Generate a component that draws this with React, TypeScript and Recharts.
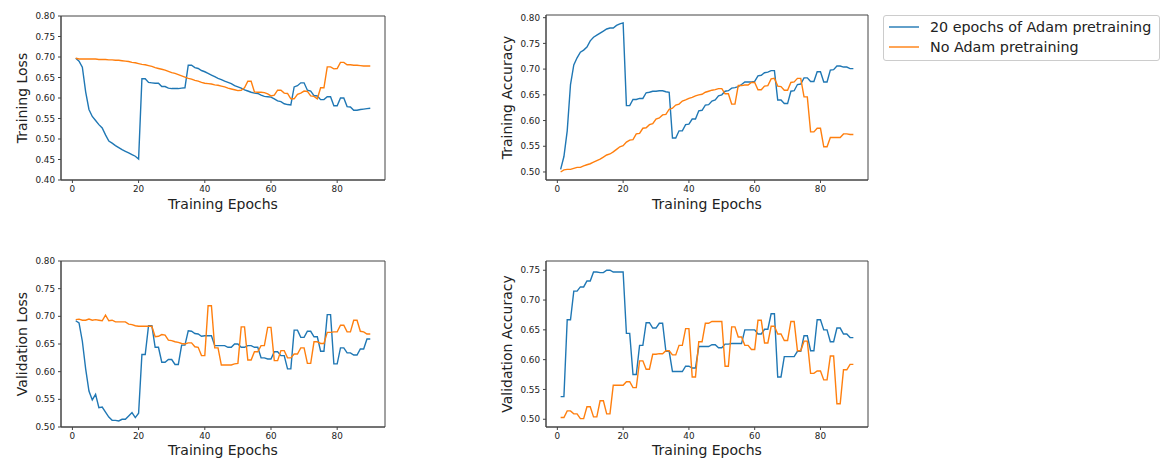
import React from "react";
import { LineChart, Line, XAxis, YAxis, ReferenceArea } from "recharts";

// epoch index 1..90 (x categories)
const epochs = Array.from({ length: 90 }, (_, i) => i + 1);

const trainLossAdam = [
  0.697, 0.690, 0.675, 0.615, 0.572, 0.555, 0.545, 0.535, 0.527, 0.510,
  0.495, 0.490, 0.484, 0.479, 0.474, 0.470, 0.466, 0.462, 0.458, 0.451,
  0.647, 0.647, 0.638, 0.637, 0.636, 0.636, 0.628, 0.628, 0.624, 0.623,
  0.623, 0.623, 0.624, 0.625, 0.680, 0.680, 0.674, 0.672, 0.667, 0.664,
  0.660, 0.656, 0.652, 0.648, 0.645, 0.641, 0.638, 0.635, 0.630, 0.627,
  0.624, 0.620, 0.617, 0.614, 0.612, 0.611, 0.607, 0.604, 0.603, 0.602,
  0.598, 0.593, 0.591, 0.586, 0.584, 0.583, 0.627, 0.630, 0.637, 0.637,
  0.619, 0.617, 0.606, 0.605, 0.596, 0.596, 0.603, 0.603, 0.581, 0.581,
  0.600, 0.600, 0.579, 0.578, 0.570, 0.570, 0.572, 0.573, 0.574, 0.575,
];
const trainLossNone = [
  0.697, 0.695, 0.695, 0.695, 0.695, 0.695, 0.695, 0.694, 0.694, 0.694,
  0.693, 0.693, 0.692, 0.692, 0.691, 0.690, 0.689, 0.687, 0.686, 0.684,
  0.682, 0.681, 0.679, 0.677, 0.674, 0.672, 0.670, 0.668, 0.665, 0.662,
  0.660, 0.657, 0.654, 0.651, 0.648, 0.646, 0.643, 0.641, 0.638, 0.636,
  0.635, 0.634, 0.632, 0.631, 0.629, 0.627, 0.624, 0.622, 0.620, 0.618,
  0.619, 0.625, 0.641, 0.641, 0.615, 0.614, 0.614, 0.613, 0.610, 0.605,
  0.607, 0.619, 0.619, 0.612, 0.611, 0.598, 0.598, 0.609, 0.612, 0.617,
  0.616, 0.605, 0.604, 0.598, 0.625, 0.625, 0.676, 0.676, 0.671, 0.672,
  0.687, 0.687, 0.681, 0.681, 0.680, 0.680, 0.679, 0.678, 0.678, 0.678,
];

const trainAccAdam = [
  0.505, 0.530, 0.580, 0.670, 0.708, 0.722, 0.733, 0.737, 0.743, 0.755,
  0.762, 0.766, 0.770, 0.774, 0.778, 0.780, 0.780, 0.785, 0.788, 0.790,
  0.629, 0.629, 0.641, 0.641, 0.643, 0.643, 0.654, 0.655, 0.657, 0.657,
  0.658, 0.658, 0.656, 0.655, 0.566, 0.566, 0.580, 0.580, 0.592, 0.593,
  0.603, 0.603, 0.619, 0.620, 0.630, 0.631, 0.638, 0.640, 0.648, 0.650,
  0.657, 0.658, 0.663, 0.664, 0.666, 0.670, 0.675, 0.675, 0.675, 0.676,
  0.687, 0.688, 0.693, 0.694, 0.697, 0.697, 0.640, 0.640, 0.633, 0.633,
  0.657, 0.658, 0.670, 0.671, 0.683, 0.683, 0.676, 0.676, 0.695, 0.695,
  0.675, 0.675, 0.698, 0.699, 0.706, 0.706, 0.704, 0.704, 0.701, 0.701,
];
const trainAccNone = [
  0.500, 0.504, 0.505, 0.505, 0.507, 0.509, 0.509, 0.512, 0.514, 0.516,
  0.519, 0.522, 0.525, 0.529, 0.533, 0.535, 0.539, 0.544, 0.549, 0.551,
  0.558, 0.562, 0.563, 0.574, 0.575, 0.585, 0.586, 0.592, 0.594, 0.603,
  0.605, 0.611, 0.612, 0.622, 0.624, 0.630, 0.632, 0.638, 0.640, 0.643,
  0.645, 0.648, 0.650, 0.651, 0.655, 0.657, 0.659, 0.660, 0.662, 0.662,
  0.652, 0.652, 0.632, 0.632, 0.668, 0.668, 0.669, 0.669, 0.674, 0.674,
  0.660, 0.660, 0.667, 0.668, 0.681, 0.682, 0.667, 0.666, 0.659, 0.659,
  0.674, 0.675, 0.682, 0.682, 0.646, 0.646, 0.578, 0.578, 0.585, 0.585,
  0.549, 0.549, 0.567, 0.567, 0.567, 0.567, 0.574, 0.574, 0.573, 0.573,
];

const valLossAdam = [
  0.692, 0.688, 0.655, 0.605, 0.565, 0.549, 0.559, 0.535, 0.536, 0.527,
  0.518, 0.512, 0.512, 0.511, 0.514, 0.514, 0.520, 0.526, 0.517, 0.525,
  0.631, 0.631, 0.683, 0.683, 0.644, 0.644, 0.617, 0.617, 0.622, 0.622,
  0.613, 0.613, 0.648, 0.648, 0.674, 0.673, 0.669, 0.668, 0.664, 0.665,
  0.665, 0.665, 0.647, 0.647, 0.647, 0.647, 0.644, 0.644, 0.650, 0.650,
  0.644, 0.644, 0.647, 0.647, 0.644, 0.644, 0.625, 0.625, 0.623, 0.623,
  0.636, 0.636, 0.629, 0.629, 0.605, 0.605, 0.675, 0.675, 0.662, 0.662,
  0.673, 0.673, 0.663, 0.663, 0.637, 0.637, 0.703, 0.703, 0.614, 0.614,
  0.643, 0.643, 0.634, 0.634, 0.630, 0.630, 0.641, 0.641, 0.659, 0.659,
];
const valLossNone = [
  0.694, 0.695, 0.693, 0.693, 0.695, 0.693, 0.694, 0.693, 0.692, 0.702,
  0.692, 0.693, 0.690, 0.690, 0.690, 0.690, 0.686, 0.685, 0.683, 0.682,
  0.682, 0.682, 0.682, 0.682, 0.663, 0.664, 0.667, 0.666, 0.657, 0.656,
  0.654, 0.653, 0.651, 0.650, 0.652, 0.652, 0.645, 0.644, 0.629, 0.629,
  0.719, 0.719, 0.643, 0.643, 0.612, 0.612, 0.612, 0.612, 0.614, 0.615,
  0.681, 0.681, 0.621, 0.621, 0.636, 0.636, 0.647, 0.647, 0.680, 0.680,
  0.620, 0.620, 0.638, 0.638, 0.625, 0.625, 0.632, 0.632, 0.643, 0.643,
  0.615, 0.615, 0.654, 0.654, 0.651, 0.651, 0.671, 0.671, 0.672, 0.672,
  0.684, 0.684, 0.672, 0.672, 0.693, 0.693, 0.673, 0.672, 0.668, 0.668,
];

const valAccAdam = [
  0.538, 0.538, 0.667, 0.667, 0.715, 0.715, 0.722, 0.722, 0.732, 0.732,
  0.747, 0.747, 0.746, 0.746, 0.750, 0.750, 0.747, 0.747, 0.747, 0.747,
  0.644, 0.644, 0.575, 0.575, 0.624, 0.624, 0.662, 0.662, 0.653, 0.653,
  0.661, 0.661, 0.614, 0.614, 0.580, 0.580, 0.580, 0.580, 0.589, 0.589,
  0.586, 0.586, 0.622, 0.622, 0.622, 0.622, 0.625, 0.625, 0.620, 0.620,
  0.626, 0.626, 0.627, 0.627, 0.627, 0.627, 0.650, 0.650, 0.650, 0.650,
  0.643, 0.643, 0.651, 0.651, 0.677, 0.677, 0.571, 0.571, 0.605, 0.605,
  0.605, 0.605, 0.614, 0.614, 0.640, 0.640, 0.615, 0.615, 0.667, 0.667,
  0.650, 0.650, 0.630, 0.630, 0.653, 0.653, 0.643, 0.643, 0.637, 0.637,
];
const valAccNone = [
  0.503, 0.503, 0.514, 0.514, 0.509, 0.509, 0.501, 0.501, 0.521, 0.521,
  0.504, 0.504, 0.531, 0.531, 0.509, 0.509, 0.557, 0.557, 0.557, 0.557,
  0.563, 0.563, 0.553, 0.553, 0.598, 0.598, 0.584, 0.584, 0.609, 0.609,
  0.610, 0.610, 0.615, 0.615, 0.608, 0.608, 0.624, 0.624, 0.652, 0.652,
  0.571, 0.571, 0.630, 0.630, 0.661, 0.661, 0.664, 0.664, 0.664, 0.664,
  0.589, 0.589, 0.655, 0.655, 0.638, 0.638, 0.624, 0.624, 0.617, 0.617,
  0.666, 0.666, 0.628, 0.628, 0.656, 0.656, 0.643, 0.643, 0.632, 0.632,
  0.664, 0.664, 0.615, 0.615, 0.631, 0.631, 0.577, 0.577, 0.581, 0.581,
  0.566, 0.566, 0.606, 0.606, 0.526, 0.526, 0.583, 0.583, 0.592, 0.592,
];

const xTicks = [0, 20, 40, 60, 80];
const lossTicks = [0.4, 0.45, 0.5, 0.55, 0.6, 0.65, 0.7, 0.75, 0.8];
const valLossTicks = [0.5, 0.55, 0.6, 0.65, 0.7, 0.75, 0.8];
const trainAccTicks = [0.5, 0.55, 0.6, 0.65, 0.7, 0.75, 0.8];
const valAccTicks = [0.5, 0.55, 0.6, 0.65, 0.7, 0.75];

const seriesNames = ["20 epochs of Adam pretraining", "No Adam pretraining"];

const BLUE = "#1f77b4";
const ORANGE = "#ff7f0e";
const FONT = "'DejaVu Sans', sans-serif";
const AXIS = "#444";
const X_DOMAIN: [number, number] = [-3.45, 94.45];

type PanelProps = {
  left: number;
  top: number;
  marginTop: number;
  plotW: number;
  plotH: number;
  xAxisH: number;
  xLabelOffset: number;
  yDomain: [number, number];
  yTicks: number[];
  yLabel: string;
  adam: number[];
  none: number[];
};

function Panel(p: PanelProps) {
  const data = epochs.map((epoch, i) => ({ epoch, adam: p.adam[i], none: p.none[i] }));
  const width = 61 + p.plotW + 15;
  const height = p.marginTop + p.plotH + p.xAxisH;
  const tick = { fontSize: 8.8, fill: "#222", fontFamily: FONT };
  return (
    <div style={{ position: "absolute", left: p.left, top: p.top }}>
      <LineChart width={width} height={height} data={data} margin={{ top: p.marginTop, right: 15, bottom: 0, left: 0 }}>
        <XAxis
          dataKey="epoch"
          type="number"
          domain={X_DOMAIN}
          ticks={xTicks}
          allowDataOverflow
          height={p.xAxisH}
          tickSize={3}
          tickMargin={3}
          stroke={AXIS}
          tick={tick}
          label={{ value: "Training Epochs", position: "insideBottom", offset: p.xLabelOffset, fontSize: 14, fill: "#222", fontFamily: FONT }}
        />
        <YAxis
          type="number"
          domain={p.yDomain}
          ticks={p.yTicks}
          allowDataOverflow
          width={61}
          tickSize={3}
          tickMargin={3}
          stroke={AXIS}
          tick={tick}
          tickFormatter={(v: number) => v.toFixed(2)}
          label={{ value: p.yLabel, angle: -90, position: "insideLeft", offset: 22, textAnchor: "middle", fontSize: 14, fill: "#222", fontFamily: FONT }}
        />
        {/* full box frame like matplotlib spines */}
        <ReferenceArea
          x1={X_DOMAIN[0]}
          x2={X_DOMAIN[1]}
          y1={p.yDomain[0]}
          y2={p.yDomain[1]}
          fill="none"
          fillOpacity={0}
          stroke={AXIS}
          strokeWidth={1}
          ifOverflow="visible"
        />
        <Line type="linear" dataKey="adam" name={seriesNames[0]} stroke={BLUE} strokeWidth={1.4} dot={false} isAnimationActive={false} />
        <Line type="linear" dataKey="none" name={seriesNames[1]} stroke={ORANGE} strokeWidth={1.4} dot={false} isAnimationActive={false} />
      </LineChart>
    </div>
  );
}

function LegendBox() {
  const colors = [BLUE, ORANGE];
  return (
    <div
      style={{
        position: "absolute",
        left: 883,
        top: 15,
        width: 275,
        height: 44,
        border: "1px solid #cccccc",
        borderRadius: 3,
        background: "#fff",
        fontFamily: FONT,
        fontSize: 14.3,
        color: "#222",
      }}
    >
      {seriesNames.map((name, i) => (
        <div key={name} style={{ position: "absolute", left: 0, top: 0.7 + i * 20, height: 20, width: 275 }}>
          <svg width={40} height={20} style={{ position: "absolute", left: 0, top: 0 }}>
            <line x1={5} x2={35} y1={10} y2={10} stroke={colors[i]} strokeWidth={1.4} />
          </svg>
          <span style={{ position: "absolute", left: 46, top: 0, lineHeight: "20px", whiteSpace: "nowrap" }}>{name}</span>
        </div>
      ))}
    </div>
  );
}

export default function App() {
  return (
    <div style={{ position: "absolute", left: 0, top: 0, width: 1161, height: 459, overflow: "hidden", background: "#fff" }}>
      <Panel left={0} top={0} marginTop={16} plotW={324} plotH={164} xAxisH={42} xLabelOffset={13}
        yDomain={[0.4, 0.8]} yTicks={lossTicks} yLabel="Training Loss" adam={trainLossAdam} none={trainLossNone} />
      <Panel left={485} top={0} marginTop={15} plotW={322} plotH={165} xAxisH={42} xLabelOffset={13}
        yDomain={[0.4844, 0.8052]} yTicks={trainAccTicks} yLabel="Training Accuracy" adam={trainAccAdam} none={trainAccNone} />
      <Panel left={0} top={244} marginTop={17} plotW={324} plotH={166} xAxisH={32} xLabelOffset={4}
        yDomain={[0.5, 0.8]} yTicks={valLossTicks} yLabel="Validation Loss" adam={valLossAdam} none={valLossNone} />
      <Panel left={485} top={244} marginTop={17} plotW={322} plotH={166} xAxisH={32} xLabelOffset={4}
        yDomain={[0.487, 0.7655]} yTicks={valAccTicks} yLabel="Validation Accuracy" adam={valAccAdam} none={valAccNone} />
      <LegendBox />
    </div>
  );
}
